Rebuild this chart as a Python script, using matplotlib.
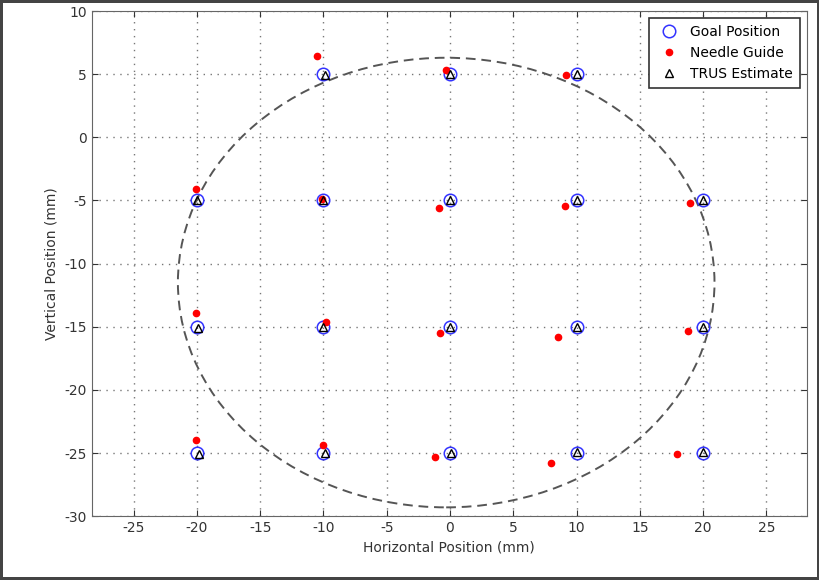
import matplotlib
matplotlib.use('Agg')
import matplotlib.pyplot as plt
from matplotlib.patches import Ellipse

plt.rcParams['axes.unicode_minus'] = False

# Goal positions (mm)
goal_x = [-10, 0, 10,
          -20, -10, 0, 10, 20,
          -20, -10, 0, 10, 20,
          -20, -10, 0, 10, 20]
goal_y = [5, 5, 5,
          -5, -5, -5, -5, -5,
          -15, -15, -15, -15, -15,
          -25, -25, -25, -25, -25]

# Needle guide positions (mm)
needle_x = [-10.5, -0.3, 9.2,
            -20.1, -10.1, -0.9, 9.1, 19.0,
            -20.1, -9.8, -0.8, 8.5, 18.8,
            -20.1, -10.0, -1.2, 8.0, 17.9]
needle_y = [6.4, 5.3, 4.9,
            -4.1, -4.9, -5.6, -5.4, -5.2,
            -13.9, -14.6, -15.5, -15.8, -15.3,
            -24.0, -24.4, -25.3, -25.8, -25.1]

# TRUS estimates (mm)
trus_x = [-9.9, 0.0, 10.0,
          -20.0, -10.0, 0.0, 10.0, 20.0,
          -19.9, -10.0, 0.0, 10.0, 20.0,
          -19.8, -9.9, 0.1, 10.0, 20.0]
trus_y = [4.9, 5.0, 5.0,
          -5.0, -5.0, -5.0, -5.0, -5.0,
          -15.1, -15.0, -15.0, -15.0, -15.0,
          -25.1, -25.0, -25.0, -24.9, -24.9]

# workspace boundary (ellipse)
ws_center = (-0.3, -11.5)
ws_width = 42.4
ws_height = 35.6

fig = plt.figure(figsize=(8.2, 5.8), dpi=100)
fig.patch.set_edgecolor('#444444')
fig.patch.set_linewidth(3)
ax = fig.add_axes([0.112, 0.11, 0.872, 0.871])

ell = Ellipse(ws_center, ws_width, ws_height, fill=False, linestyle=(0, (5, 3)),
              edgecolor='#555555', linewidth=1.4, zorder=2)
ax.add_patch(ell)

ax.plot(goal_x, goal_y, 'o', markersize=9, markerfacecolor='none',
        markeredgecolor='#3333ff', markeredgewidth=1.1, label='Goal Position', zorder=3)
ax.plot(needle_x, needle_y, 'o', markersize=4.5, color='red', markeredgecolor='red',
        label='Needle Guide', zorder=4)
ax.plot(trus_x, trus_y, '^', markersize=5.5, markerfacecolor='none',
        markeredgecolor='black', markeredgewidth=1.0, label='TRUS Estimate', zorder=5)

ax.set_xlim(-28.3, 28.2)
ax.set_ylim(-30, 10)
ax.set_xticks(range(-25, 26, 5))
ax.set_yticks(range(-30, 11, 5))
ax.tick_params(direction='in', labelsize=10, colors='#333333', length=4,
               top=True, right=True)
ax.grid(True, linestyle=(0, (1, 4)), color='#777777', linewidth=1)
for s in ax.spines.values():
    s.set_color('#666666')

ax.set_xlabel('Horizontal Position (mm)', fontsize=10, color='#333333')
ax.set_ylabel('Vertical Position (mm)', fontsize=10, color='#333333')

leg = ax.legend(loc='upper right', fontsize=10, fancybox=False, framealpha=1,
                edgecolor='#333333', borderpad=0.5, handletextpad=0.5)
leg.get_frame().set_linewidth(1.2)

fig.savefig('out.png', dpi=100)
